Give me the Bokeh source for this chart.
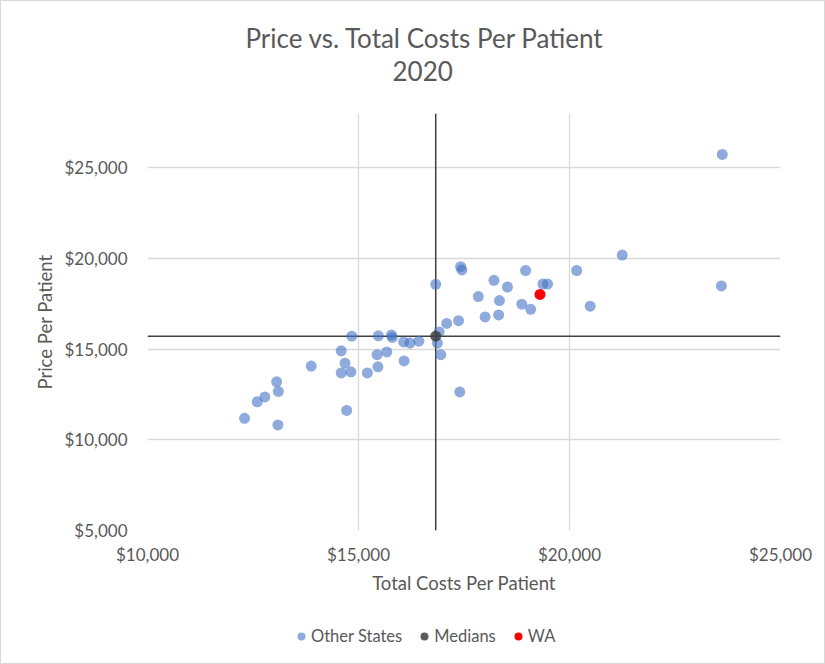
from bokeh.plotting import figure
from bokeh.layouts import column
from bokeh.models import (Span, Title, NumeralTickFormatter, FixedTicker, Legend,
                          LegendItem, Range1d)
from bokeh.embed import file_html
from bokeh.resources import INLINE

# ---- data ----
other_x = [12300, 12600, 12780, 13060, 13100, 13090, 13880, 14590, 14680, 14590,
           14820, 14720, 14840, 15210, 15470, 15440, 15460, 15670, 15780, 15800,
           16070, 16220, 16080, 16430, 16910, 16870, 16950, 17090, 17370, 17400,
           16830, 17420, 17450, 18210, 18530, 18960, 19370, 19480, 17840, 18340,
           18870, 19080, 18000, 18320, 20170, 21250, 20490, 23620, 23600]
other_y = [11190, 12100, 12370, 13200, 12670, 10820, 14070, 14910, 14230, 13690,
           13750, 11620, 15720, 13690, 15735, 14700, 14030, 14850, 15780, 15650,
           15400, 15340, 14350, 15440, 15955, 15330, 14700, 16420, 16570, 12640,
           18580, 19550, 19370, 18800, 18430, 19340, 18590, 18590, 17900, 17680,
           17480, 17200, 16780, 16890, 19340, 20190, 17370, 25740, 18490]
median_x = [16830]
median_y = [15720]
wa_x = [19300]
wa_y = [18020]
x_ticks = [10000, 15000, 20000, 25000]
y_ticks = [5000, 10000, 15000, 20000, 25000]
series_labels = ["Other States", "Medians", "WA"]
title_line1 = "Price vs. Total Costs Per Patient"
title_line2 = "2020"

FONT = "Lato"
TXT = "#595959"
C_OTHER = "#4472C4"
C_MED = "#404040"
C_WA = "#FF0000"

p = figure(width=823, height=600, output_backend="svg", toolbar_location=None,
           x_range=Range1d(10000, 25000), y_range=Range1d(5000, 28000),
           min_border_left=146, min_border_right=44, min_border_top=112,
           min_border_bottom=71, background_fill_color="white",
           border_fill_color="white")

t2 = Title(text=title_line2, align="left", offset=245, standoff=66,
           text_font=FONT, text_font_size="26px", text_color=TXT,
           text_font_style="normal")
p.add_layout(t2, "above")
t1 = Title(text=title_line1, align="left", offset=98, standoff=-56,
           text_font=FONT, text_font_size="26px", text_color=TXT,
           text_font_style="normal")
p.add_layout(t1, "above")

p.xaxis.ticker = FixedTicker(ticks=x_ticks)
p.yaxis.ticker = FixedTicker(ticks=y_ticks)
p.xaxis.formatter = NumeralTickFormatter(format="$0,0")
p.yaxis.formatter = NumeralTickFormatter(format="$0,0")
p.axis.axis_line_color = None
p.axis.major_tick_line_color = None
p.axis.minor_tick_line_color = None
p.axis.major_tick_out = 0
p.axis.major_tick_in = 0
p.xaxis.major_label_standoff = 13
p.yaxis.major_label_standoff = 20
p.axis.major_label_text_font = FONT
p.axis.major_label_text_font_size = "17px"
p.axis.major_label_text_color = TXT
p.xaxis.axis_label = "Total Costs Per Patient"
p.yaxis.axis_label = "Price Per Patient"
p.axis.axis_label_text_font = FONT
p.axis.axis_label_text_font_size = "18.5px"
p.axis.axis_label_text_font_style = "normal"
p.axis.axis_label_text_color = TXT
p.xaxis.axis_label_standoff = 4
p.yaxis.axis_label_standoff = 5
p.grid.grid_line_color = "#d9d9d9"
p.grid.grid_line_width = 1.3
p.outline_line_color = None

p.add_layout(Span(location=median_x[0], dimension="height", line_color=C_MED,
                  line_width=1.5, level="underlay"))
p.add_layout(Span(location=median_y[0], dimension="width", line_color=C_MED,
                  line_width=1.5, level="underlay"))

p.scatter(other_x, other_y, size=11, fill_color=C_OTHER, fill_alpha=0.6, line_color=None)
p.scatter(median_x, median_y, size=11, fill_color=C_MED, fill_alpha=0.85, line_color=None)
p.scatter(wa_x, wa_y, size=11, fill_color=C_WA, line_color=None)

# ---- legend strip below the chart (same series styles) ----
lg = figure(width=823, height=62, output_backend="svg", toolbar_location=None,
            x_range=Range1d(0, 1), y_range=Range1d(0, 1), min_border=0,
            x_axis_type=None, y_axis_type=None, background_fill_color="white",
            border_fill_color="white")
lg.grid.visible = False
lg.outline_line_color = None
g_other = lg.scatter(other_x[:1], other_y[:1], size=11, fill_color=C_OTHER,
                     fill_alpha=0.6, line_color=None)
g_med = lg.scatter(median_x, median_y, size=11, fill_color=C_MED, fill_alpha=0.85,
                   line_color=None)
g_wa = lg.scatter(wa_x, wa_y, size=11, fill_color=C_WA, line_color=None)

legend = Legend(items=[LegendItem(label=series_labels[0], renderers=[g_other]),
                       LegendItem(label=series_labels[1], renderers=[g_med]),
                       LegendItem(label=series_labels[2], renderers=[g_wa])],
                orientation="horizontal", location=(144, 17), padding=0, margin=0,
                spacing=12, glyph_width=20, glyph_height=20, label_standoff=0,
                label_text_font=FONT, label_text_font_size="16.5px",
                label_text_color=TXT, border_line_color=None,
                background_fill_alpha=0)
lg.add_layout(legend)

layout = column(p, lg, spacing=0)
layout.styles = {"border": "1px solid #d9d9d9"}

open("out.html", "w").write(file_html(layout, INLINE))
